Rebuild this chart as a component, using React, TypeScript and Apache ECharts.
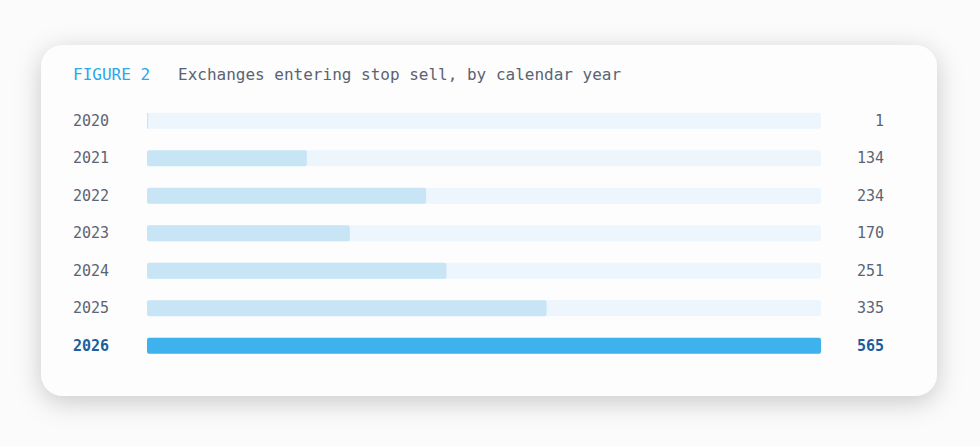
import React, { useEffect, useRef } from "react";
import * as echarts from "echarts";

const years = ["2020", "2021", "2022", "2023", "2024", "2025", "2026"];
const counts = [1, 134, 234, 170, 251, 335, 565];
const highlightYear = "2026";
const figureLabel = "FIGURE 2";
const figureTitle = "Exchanges entering stop sell, by calendar year";

const MONO = "'DejaVu Sans Mono', 'Liberation Mono', monospace";

export default function App() {
  const ref = useRef<HTMLDivElement>(null);
  useEffect(() => {
    if (!ref.current) return;
    const chart = echarts.init(ref.current, undefined, { renderer: "svg" });
    const maxVal = Math.max(...counts);
    chart.setOption({
      animation: false,
      backgroundColor: "#fbfbfb",
      graphic: [
        {
          type: "rect",
          shape: { x: 41, y: 45, width: 896, height: 351, r: 22 },
          style: {
            fill: "#fdfdfd",
            shadowBlur: 26,
            shadowColor: "rgba(0,0,0,0.2)",
            shadowOffsetY: 6,
          },
          z: -10,
          silent: true,
        },
        {
          type: "text",
          x: 73,
          y: 74,
          style: {
            text: figureLabel,
            font: `16px ${MONO}`,
            fill: "#2aa8e8",
            verticalAlign: "middle",
          },
        },
        {
          type: "text",
          x: 178,
          y: 74,
          style: {
            text: figureTitle,
            font: `16px ${MONO}`,
            fill: "#5a6372",
            verticalAlign: "middle",
          },
        },
      ],
      grid: { left: 147, right: 159, top: 102, height: 262.5, containLabel: false },
      xAxis: { type: "value", min: 0, max: maxVal, show: false },
      yAxis: [
        {
          type: "category",
          data: years,
          inverse: true,
          axisLine: { show: false },
          axisTick: { show: false },
          axisLabel: {
            align: "left",
            margin: 74,
            fontFamily: MONO,
            fontSize: 15,
            color: "#5b6472",
            formatter: (v: string) => (v === highlightYear ? `{h|${v}}` : v),
            rich: {
              h: { fontFamily: MONO, fontSize: 15, fontWeight: "bold", color: "#1b5e9b" },
            },
          },
        },
        {
          type: "category",
          data: counts.map((c) => String(c)),
          inverse: true,
          position: "right",
          axisLine: { show: false },
          axisTick: { show: false },
          axisLabel: {
            align: "right",
            margin: 63,
            fontFamily: MONO,
            fontSize: 15,
            color: "#5b6472",
            formatter: (v: string, i: number) => (years[i] === highlightYear ? `{h|${v}}` : v),
            rich: {
              h: { fontFamily: MONO, fontSize: 15, fontWeight: "bold", color: "#1b5e9b" },
            },
          },
        },
      ],
      series: [
        {
          type: "bar",
          yAxisIndex: 0,
          barWidth: 16,
          data: counts.map((c, i) => ({
            value: c,
            itemStyle: {
              color: years[i] === highlightYear ? "#3db2ec" : "#c8e5f6",
              borderRadius: 2,
            },
          })),
          showBackground: true,
          backgroundStyle: { color: "#edf6fd", borderRadius: 2 },
        },
      ],
    });
    return () => chart.dispose();
  }, []);
  return (
    <div
      ref={ref}
      style={{ position: "fixed", left: 0, top: 0, width: 980, height: 446 }}
    />
  );
}
